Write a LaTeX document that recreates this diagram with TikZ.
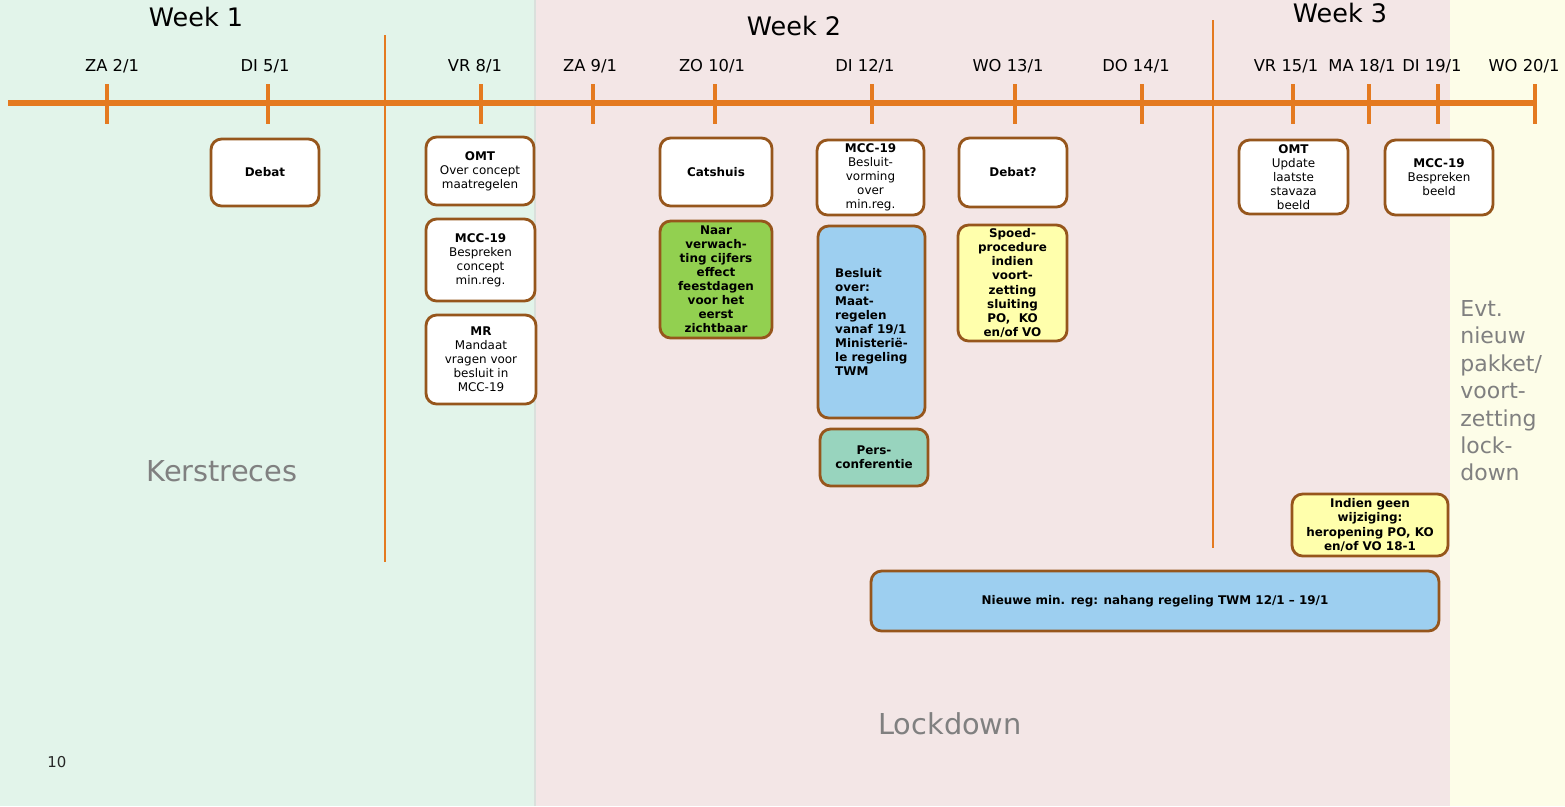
\documentclass[tikz,border=0pt]{standalone}
\usepackage{fontspec}
\setmainfont{DejaVu Sans}
\definecolor{bggreen}{RGB}{226,244,234}
\definecolor{bgpink}{RGB}{243,230,230}
\definecolor{bgyellow}{RGB}{253,253,232}
\definecolor{bgedge}{RGB}{218,224,220}
\definecolor{lineorange}{RGB}{228,122,32}
\definecolor{boxline}{RGB}{150,86,28}
\definecolor{fillgreen}{RGB}{146,208,80}
\definecolor{fillblue}{RGB}{157,207,240}
\definecolor{fillteal}{RGB}{152,212,190}
\definecolor{fillyellow}{RGB}{255,255,172}
\definecolor{labelgray}{RGB}{128,128,128}
\newcommand{\boxfont}{\fontsize{6.8}{8}\selectfont}
\tikzset{
    timeline/.style={draw=lineorange, line width=3pt},
    daytick/.style={draw=lineorange, line width=2.3pt},
    weekline/.style={draw=lineorange, line width=0.8pt},
    datelabel/.style={font=\fontsize{9.3}{11}\selectfont, inner sep=0pt},
    weeklabel/.style={font=\fontsize{14.5}{17}\selectfont, inner sep=0pt},
    graylabel/.style={text=labelgray, inner sep=0pt},
    box/.style={draw=boxline, line width=1.6pt, rounded corners=6pt, fill=white,
        align=center, inner sep=1pt, font=\boxfont},
}
\begin{document}
\begin{tikzpicture}[x=0.02cm,y=-0.02cm]
    \useasboundingbox (0,0) rectangle (1565,806);
    \fill[bggreen] (0,0) rectangle (535,806);
    \fill[bgpink] (535,0) rectangle (1450,806);
    \fill[bgyellow] (1450,0) rectangle (1565,806);
    \draw[bgedge, line width=1.2pt] (535,0) -- (535,806);

    \draw[weekline] (385,35) -- (385,562);
    \draw[weekline] (1213,20) -- (1213,548);
    \draw[timeline] (8,103) -- (1535,103);
    \foreach \x/\lx/\name/\lab in {107/112/za2/{ZA 2/1}, 268/265/di5/{DI 5/1},
        481/475/vr8/{VR 8/1}, 593/590/za9/{ZA 9/1}, 715/712/zo10/{ZO 10/1},
        872/865/di12/{DI 12/1}, 1015/1008/wo13/{WO 13/1}, 1142/1136/do14/{DO 14/1},
        1293/1286/vr15/{VR 15/1}, 1369/1362/ma18/{MA 18/1}, 1438/1432/di19/{DI 19/1},
        1535/1524/wo20/{WO 20/1}} {
        \draw[daytick] (\x,84) -- (\x,124);
        \node[datelabel] (\name) at (\lx,66) {\lab};
    }

    \node[weeklabel] (week1) at (196,17) {Week 1};
    \node[weeklabel] (week2) at (794,26) {Week 2};
    \node[weeklabel] (week3) at (1340,13) {Week 3};

    \node[box, minimum width=2.16cm, minimum height=1.34cm] (debat) at (265,172.5) {\bfseries Debat};
    \node[box, minimum width=2.16cm, minimum height=1.36cm] (omt1) at (480,171) {{\bfseries OMT}\\Over concept\\maatregelen};
    \node[box, minimum width=2.18cm, minimum height=1.64cm] (mcc1) at (480.5,260) {{\bfseries MCC-19}\\Bespreken\\concept\\min.reg.};
    \node[box, minimum width=2.2cm, minimum height=1.78cm] (mr) at (481,359.5) {{\bfseries MR}\\Mandaat\\vragen voor\\besluit in\\MCC-19};
    \node[box, minimum width=2.24cm, minimum height=1.36cm] (cats) at (716,172) {\bfseries Catshuis};
    \node[box, fill=fillgreen, font=\boxfont\bfseries, minimum width=2.24cm, minimum height=2.34cm] (naar) at (716,279.5)
        {Naar\\verwach-\\ting cijfers\\effect\\feestdagen\\voor het\\eerst\\zichtbaar};
    \node[box, minimum width=2.14cm, minimum height=1.5cm] (mcc2) at (870.5,177.5) {{\bfseries MCC-19}\\Besluit-\\vorming\\over\\min.reg.};
    \node[box, fill=fillblue, font=\boxfont\bfseries, align=left, minimum width=2.14cm, minimum height=3.84cm] (besl) at (871.5,322)
        {Besluit\\over:\\Maat-\\regelen\\vanaf 19/1\\Ministerië-\\le regeling\\TWM};
    \node[box, fill=fillteal, font=\boxfont\bfseries, minimum width=2.16cm, minimum height=1.14cm] (pers) at (874,457.5) {Pers-\\conferentie};
    \node[box, minimum width=2.16cm, minimum height=1.38cm] (debat2) at (1013,172.5) {\bfseries Debat?};
    \node[box, fill=fillyellow, font=\boxfont\bfseries, minimum width=2.18cm, minimum height=2.32cm] (spoed) at (1012.5,283)
        {Spoed-\\procedure\\indien\\voort-\\zetting\\sluiting\\PO,~ KO\\en/of VO};
    \node[box, minimum width=2.18cm, minimum height=1.48cm] (omt2) at (1293.5,177) {{\bfseries OMT}\\Update\\laatste\\stavaza\\beeld};
    \node[box, minimum width=2.16cm, minimum height=1.5cm] (mcc3) at (1439,177.5) {{\bfseries MCC-19}\\Bespreken\\beeld};
    \node[box, fill=fillyellow, font=\boxfont\bfseries, minimum width=3.12cm, minimum height=1.24cm] (indien) at (1370,525)
        {Indien geen\\wijziging:\\heropening PO, KO\\en/of VO 18-1};
    \node[box, fill=fillblue, font=\boxfont\bfseries, minimum width=11.36cm, minimum height=1.2cm] (nieuwe) at (1155,601)
        {Nieuwe min. reg: nahang regeling TWM 12/1 – 19/1};

    \node[graylabel, font=\fontsize{16.4}{20}\selectfont] (kerst) at (222,471) {Kerstreces};
    \node[graylabel, font=\fontsize{16.4}{20}\selectfont] (lock) at (950,724) {Lockdown};
    \node[graylabel, font=\fontsize{12.5}{15.6}\selectfont, align=left, anchor=north west] (evt) at (1460,300)
        {Evt.\\nieuw\\pakket/\\voort-\\zetting\\lock-\\down};
    \node[font=\fontsize{8.5}{10}\selectfont, text=black!85, inner sep=0pt] (page) at (57,762) {10};
\end{tikzpicture}
\end{document}
